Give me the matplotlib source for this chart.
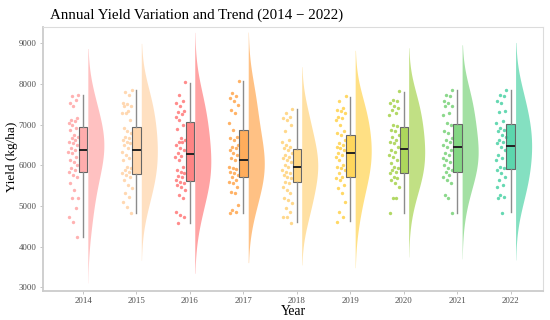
import numpy as np
import matplotlib
matplotlib.use("Agg")
import matplotlib.pyplot as plt

years = ["2014", "2015", "2016", "2017", "2018", "2019", "2020", "2021", "2022"]
colors = ["#FF9999", "#FFCC99", "#FF6666", "#FF9933", "#FFCC66",
          "#FFCC33", "#99CC33", "#66CC66", "#33CC99"]

y2014 = [7730, 7705, 7607, 7525, 7460, 7156, 7115, 7075, 7034, 6993, 6911, 6870, 6747, 6706,
         6665, 6624, 6583, 6542, 6501, 6419, 6378, 6337, 6296, 6215, 6133, 6092, 6010, 5928,
         5887, 5846, 5764, 5723, 5559, 5396, 5191, 5191, 4945, 4740, 4618, 4249]
y2015 = [7836, 7787, 7730, 7525, 7500, 7460, 7443, 7320, 7279, 7279, 7116, 6911, 6829, 6788,
         6706, 6665, 6624, 6583, 6542, 6501, 6419, 6337, 6256, 6174, 6133, 5969, 5928, 5887,
         5846, 5805, 5764, 5723, 5641, 5518, 5437, 5314, 5232, 5109, 4986, 4822]
y2016 = [8033, 7730, 7566, 7525, 7460, 7320, 7296, 7263, 7197, 7116, 6993, 6886, 6665, 6624,
         6583, 6559, 6501, 6419, 6378, 6296, 6231, 6198, 6133, 5969, 5887, 5846, 5805, 5740,
         5707, 5641, 5600, 5559, 5518, 5478, 5396, 5273, 5191, 4863, 4781, 4740, 4577]
y2017 = [8057, 7771, 7705, 7648, 7566, 7484, 7361, 7279, 7034, 6870, 6706, 6665, 6624, 6501,
         6460, 6419, 6378, 6296, 6256, 6174, 6133, 5953, 5928, 5903, 5846, 5805, 5764, 5723,
         5641, 5600, 5559, 5478, 5355, 5314, 5027, 4904, 4863, 4822]
y2018 = [7378, 7279, 7197, 7157, 7116, 6993, 6829, 6624, 6583, 6501, 6460, 6419, 6378, 6296,
         6256, 6215, 6174, 6133, 6092, 6010, 5969, 5887, 5846, 5805, 5764, 5723, 5682, 5600,
         5559, 5478, 5396, 5314, 5191, 5150, 5068, 4945, 4863, 4740, 4740, 4593]
y2019 = [7689, 7566, 7402, 7361, 7320, 7279, 7197, 7157, 7116, 6993, 6829, 6788, 6747, 6624,
         6542, 6501, 6460, 6419, 6378, 6296, 6256, 6215, 6133, 6010, 5969, 5928, 5887, 5805,
         5723, 5682, 5641, 5518, 5437, 5314, 5109, 4863, 4740, 4618]
y2020 = [7812, 7607, 7566, 7525, 7443, 7402, 7361, 7279, 7238, 6993, 6952, 6870, 6829, 6747,
         6706, 6624, 6583, 6542, 6460, 6378, 6337, 6256, 6215, 6133, 6051, 5969, 5928, 5887,
         5846, 5805, 5723, 5682, 5641, 5559, 5478, 5191, 5191, 4822]
y2021 = [7836, 7730, 7705, 7566, 7525, 7460, 7443, 7279, 7238, 7034, 6993, 6829, 6788, 6665,
         6624, 6583, 6501, 6460, 6378, 6296, 6256, 6174, 6133, 6092, 6010, 5928, 5887, 5846,
         5764, 5723, 5641, 5559, 5273, 5191, 4822]
y2022 = [7853, 7730, 7705, 7566, 7525, 7320, 7296, 7075, 7034, 6911, 6870, 6829, 6747, 6706,
         6624, 6583, 6542, 6460, 6378, 6256, 6174, 6133, 5969, 5928, 5887, 5805, 5723, 5641,
         5518, 5478, 5273, 5232, 5191, 4839]
yields = [y2014, y2015, y2016, y2017, y2018, y2019, y2020, y2021, y2022]

# box statistics
box_low = [4249, 4822, 4577, 4822, 4609, 4641, 4822, 4822, 4850]
box_q1 = [5830, 5781, 5624, 5707, 5585, 5715, 5813, 5830, 5904]
box_med = [6386, 6386, 6288, 6133, 5961, 6297, 6410, 6452, 6477]
box_q3 = [6950, 6950, 7074, 6877, 6410, 6755, 6936, 7010, 7017]
box_high = [7730, 7836, 8032, 8057, 7378, 7688, 7811, 7836, 7853]

serif = ["Liberation Serif", "DejaVu Serif"]
plt.rcParams["font.family"] = serif

fig = plt.figure(figsize=(5.5, 3.2), dpi=100)
ax = fig.add_axes([0.078, 0.0916, 0.909, 0.8234])

box_w = 0.16
for i, (vals, col) in enumerate(zip(yields, colors)):
    v = np.asarray(vals, dtype=float)
    n = len(v)
    # half violin (gaussian kde, widened nrd0 bandwidth)
    sd = v.std(ddof=1)
    iqr = np.subtract(*np.percentile(v, [75, 25]))
    bw = 1.6 * 0.9 * min(sd, iqr / 1.34) * n ** (-0.2)
    grid = np.linspace(v.min() - 2.0 * bw, v.max() + 2.0 * bw, 400)
    dens = np.exp(-0.5 * ((grid[:, None] - v[None, :]) / bw) ** 2).sum(axis=1)
    dens = dens / dens.max() * 0.30
    x0 = i + box_w / 2 + 0.01
    ax.fill_betweenx(grid, x0, x0 + dens, color=col, alpha=0.6, lw=0, zorder=1)
    # jittered points (deterministic jitter)
    jit = -0.09 - 0.19 * ((np.arange(n) * 0.6180339) % 1.0)
    ax.scatter(i + jit, v, s=6, color=col, alpha=0.75, lw=0, zorder=3)

stats = []
for i in range(len(years)):
    stats.append(dict(whislo=box_low[i], q1=box_q1[i], med=box_med[i],
                      q3=box_q3[i], whishi=box_high[i], fliers=[]))
bp = ax.bxp(stats, positions=np.arange(len(years)), widths=box_w, patch_artist=True,
            showcaps=False, showfliers=False,
            boxprops=dict(edgecolor="#666666", linewidth=0.8),
            medianprops=dict(color="#222222", linewidth=1.4),
            whiskerprops=dict(color="#8c8c8c", linewidth=1.0), zorder=4)
for patch, col in zip(bp["boxes"], colors):
    patch.set_facecolor(matplotlib.colors.to_rgba(col, 0.8))

ax.set_xlim(-0.75, 8.6)
ax.set_ylim(2920, 9390)
ax.set_xticks(np.arange(len(years)))
ax.set_xticklabels(years)
ax.set_yticks([3000, 4000, 5000, 6000, 7000, 8000, 9000])
ax.tick_params(axis="both", labelsize=6.3, colors="#4d4d4d", length=2.5, width=0.6,
               pad=2)
ax.tick_params(axis="both", color="#bbbbbb")
for s in ["left", "bottom"]:
    ax.spines[s].set_color("#cccccc")
    ax.spines[s].set_linewidth(1.3)
for s in ["top", "right"]:
    ax.spines[s].set_color("#dcdcdc")
    ax.spines[s].set_linewidth(0.8)

fig.text(0.533, 0.026, "Year", fontsize=9.8, ha="center", va="center", color="black")
fig.text(0.021, 0.51, "Yield (kg/ha)", fontsize=9.5, ha="center", va="center",
         rotation=90, color="black")
fig.text(0.091, 0.952, "Annual Yield Variation and Trend (2014 \u2212 2022)",
         fontsize=10.8, ha="left", va="center", color="black")

fig.savefig("out.png", dpi=100)
